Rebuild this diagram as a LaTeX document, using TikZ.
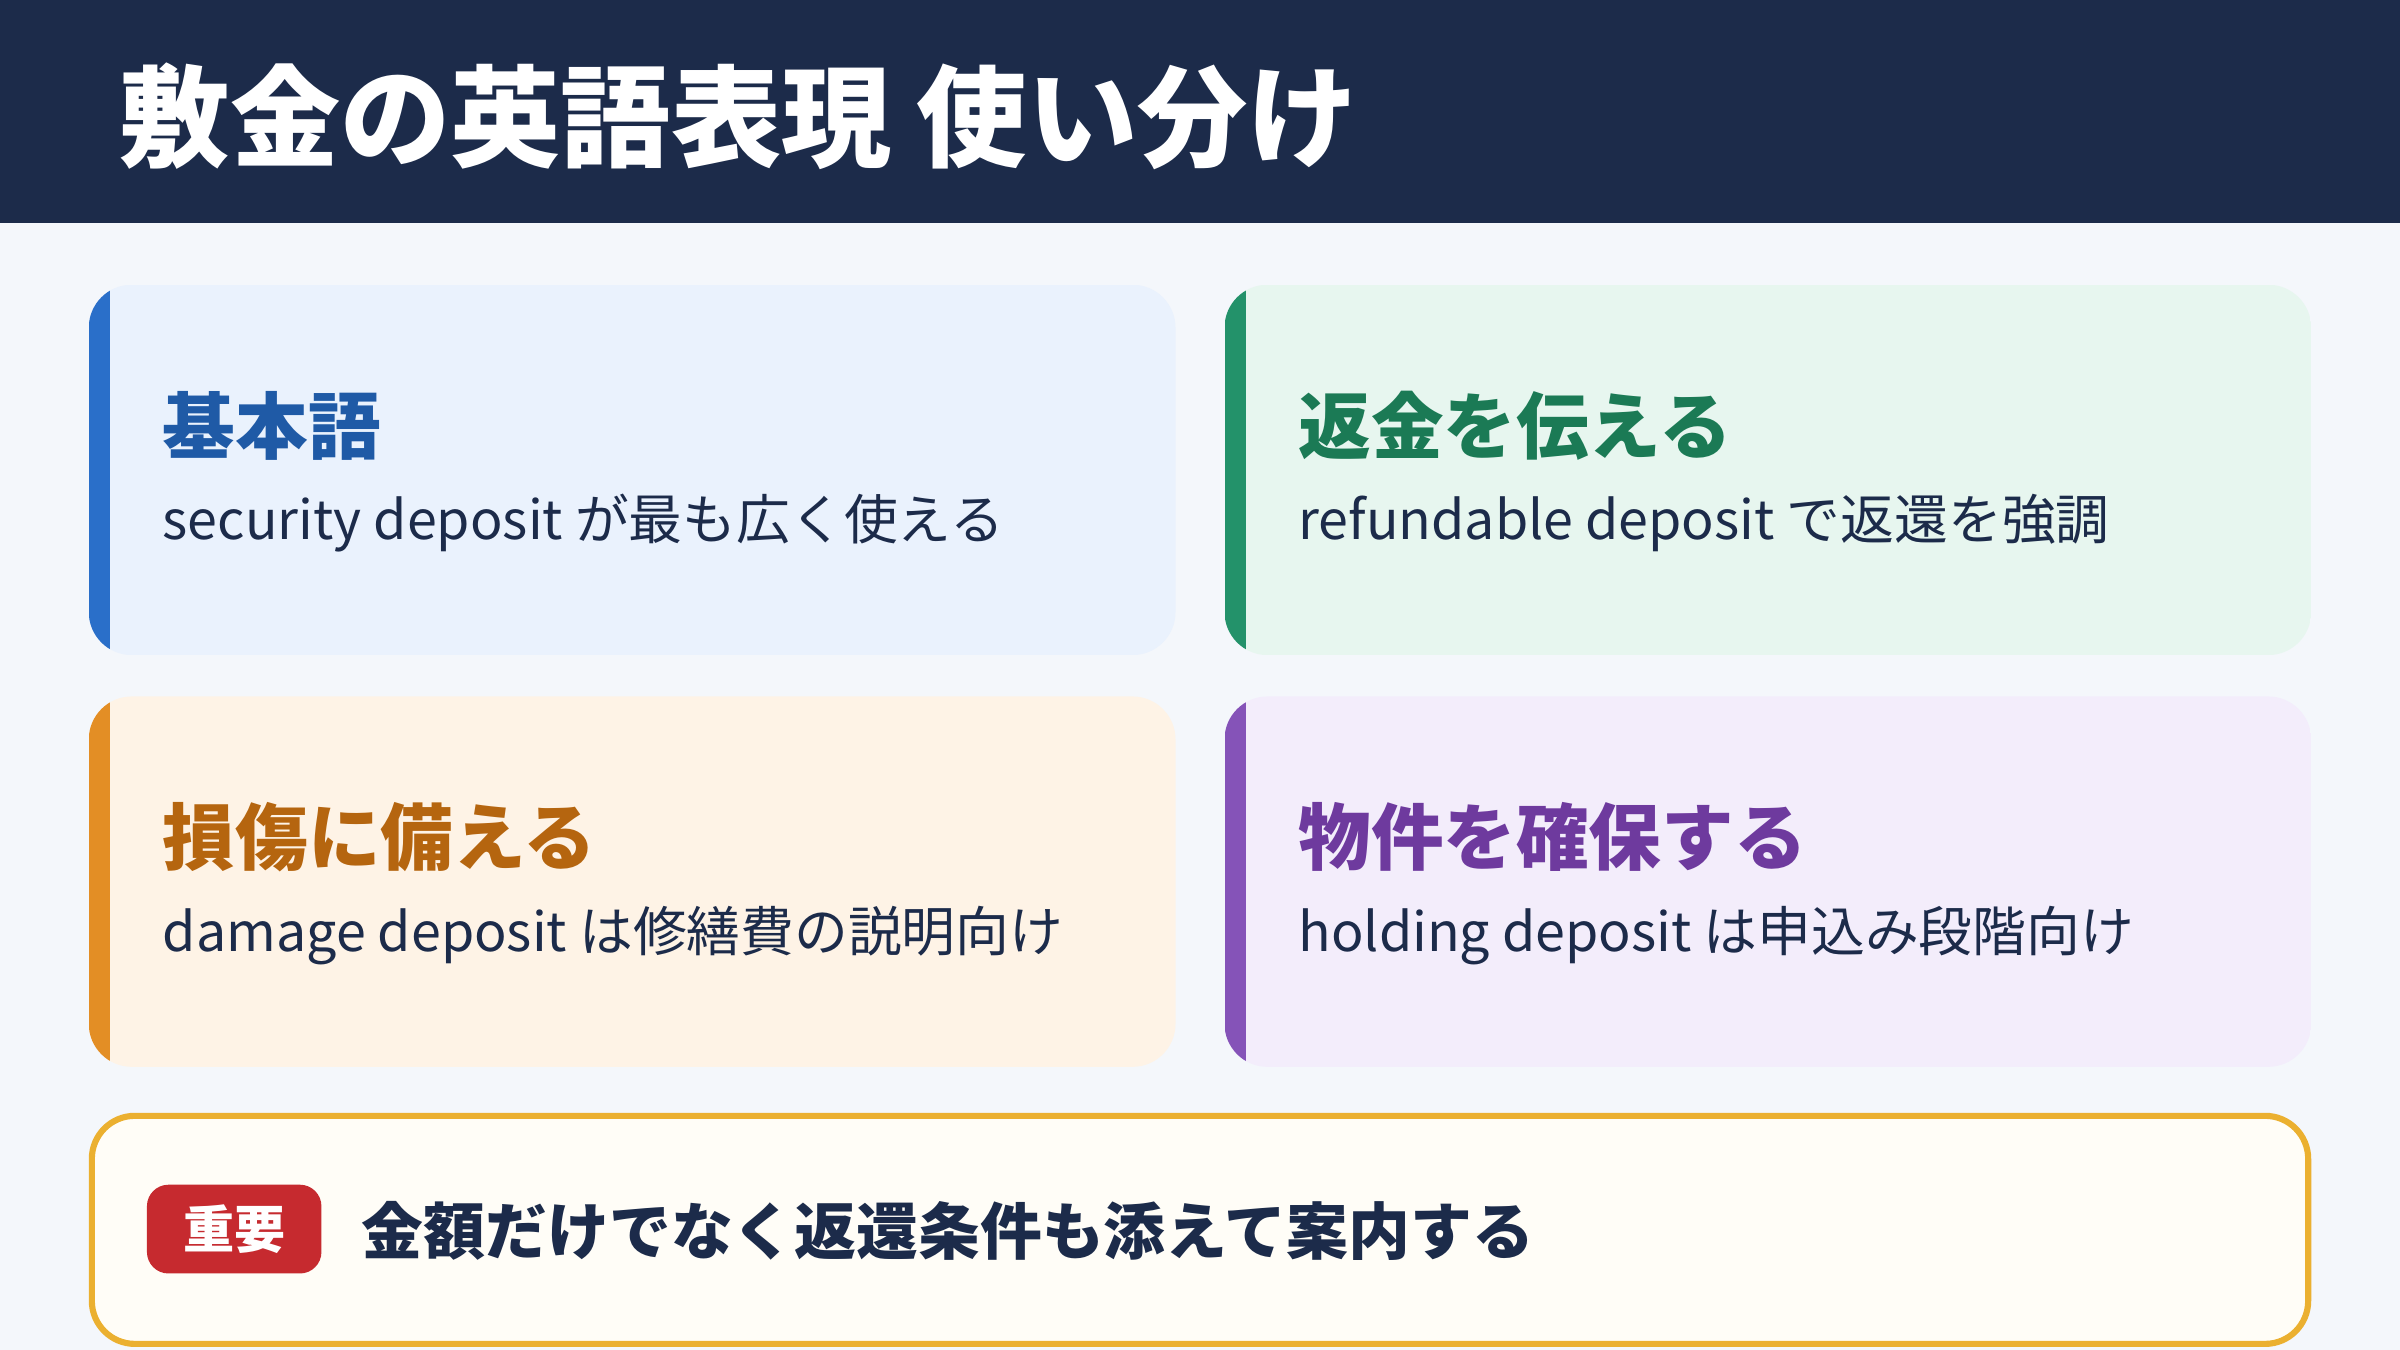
\documentclass[tikz,border=0pt]{standalone}
\usepackage{fontspec}
\setmainfont{Noto Sans CJK JP}
\definecolor{navy}{HTML}{1C2B4A}
\definecolor{bg}{HTML}{F4F7FB}
\definecolor{fa}{HTML}{EAF2FD}\definecolor{ba}{HTML}{2A6FC9}\definecolor{ta}{HTML}{1F5AA6}
\definecolor{fb}{HTML}{E7F6EF}\definecolor{bb}{HTML}{23926A}\definecolor{tb}{HTML}{1B7A55}
\definecolor{fc}{HTML}{FEF3E6}\definecolor{bc}{HTML}{E38E25}\definecolor{tc}{HTML}{B5650F}
\definecolor{fd}{HTML}{F3EDFB}\definecolor{bd}{HTML}{8553B8}\definecolor{td}{HTML}{6E3A9E}
\definecolor{nb}{HTML}{EBB030}\definecolor{nf}{HTML}{FFFDF7}\definecolor{red1}{HTML}{C62A2F}
\newcommand{\mycard}[5]{%
  \begin{scope}
  \clip[rounded corners=16] (#1,#2) rectangle ++(710,242);
  \fill[f#3] (#1,#2) rectangle ++(710,242);
  \fill[b#3] (#1,#2) rectangle ++(14,242);
  \end{scope}
  \node[ttl,text=t#3] (#3t) at ([shift={(48,92)}]#1,#2) {#4};
  \node[sub] (#3s) at ([shift={(48,156)}]#1,#2) {#5};
}
\begin{document}
\begin{tikzpicture}[x=0.02cm,y=-0.02cm,
  ttl/.style={anchor=west,inner sep=0,font=\fontsize{27}{30}\selectfont\bfseries},
  sub/.style={anchor=west,inner sep=0,text=navy,font=\fontsize{20}{24}\selectfont}]
\useasboundingbox (0,0) rectangle (1568,882);
\fill[bg] (0,0) rectangle (1568,882);
\fill[navy] (0,0) rectangle (1568,146);
\node[anchor=west,inner sep=0,text=white,font=\fontsize{41}{46}\selectfont\bfseries] (title) at (78,76) {敷金の英語表現 使い分け};
\mycard{58}{186}{a}{基本語}{security deposit が最も広く使える}
\mycard{800}{186}{b}{返金を伝える}{refundable deposit で返還を強調}
\mycard{58}{455}{c}{損傷に備える}{damage deposit は修繕費の説明向け}
\mycard{800}{455}{d}{物件を確保する}{holding deposit は申込み段階向け}
\draw[draw=nb,line width=0.08cm,fill=nf,rounded corners=16] (60,729) rectangle (1508,878);
\fill[red1,rounded corners=8] (96,774) rectangle (210,832);
\node[inner sep=0,text=white,font=\fontsize{19}{22}\selectfont\bfseries] (badge) at (153,803) {重要};
\node[anchor=west,inner sep=0,text=navy,font=\fontsize{23}{26}\selectfont\bfseries] (note) at (236,804) {金額だけでなく返還条件も添えて案内する};
\end{tikzpicture}
\end{document}
